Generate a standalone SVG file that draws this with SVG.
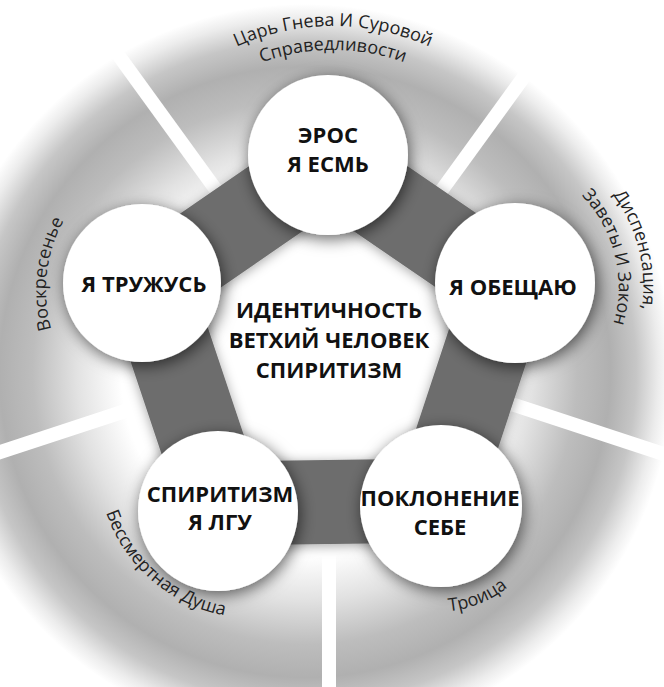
<svg xmlns="http://www.w3.org/2000/svg" width="664" height="687" viewBox="0 0 664 687">
  <defs>
    <radialGradient id="bgGrad" gradientUnits="userSpaceOnUse" cx="305" cy="372" r="368">
      <stop offset="0" stop-color="#ffffff"/>
      <stop offset="0.5" stop-color="#ffffff"/>
      <stop offset="0.62" stop-color="#e2e2e2"/>
      <stop offset="0.74" stop-color="#bdbdbd"/>
      <stop offset="0.83" stop-color="#b0b0b0"/>
      <stop offset="0.9" stop-color="#c6c6c6"/>
      <stop offset="0.96" stop-color="#ececec"/>
      <stop offset="1" stop-color="#ffffff"/>
    </radialGradient>
    <filter id="nodeShadow" x="-40%" y="-40%" width="180%" height="180%">
      <feDropShadow dx="2" dy="4" stdDeviation="8" flood-color="#000" flood-opacity="0.6"/>
    </filter>
    <filter id="bandShadow" x="-20%" y="-20%" width="140%" height="140%">
      <feDropShadow dx="0" dy="2" stdDeviation="6" flood-color="#000" flood-opacity="0.35"/>
    </filter>
    <path id="arcTop1" d="M 333 494 A 234 234 0 1 1 333 26 A 234 234 0 1 1 333 494"/>
    <path id="arcTop2" d="M 333 470 A 210 210 0 1 1 333 50 A 210 210 0 1 1 333 470"/>
    <path id="arcRight1" d="M 351.4 320.8 A 148 148 0 1 1 638.6 249.2 A 148 148 0 1 1 351.4 320.8"/>
    <path id="arcRight2" d="M 375.7 314.8 A 123 123 0 1 1 614.3 255.2 A 123 123 0 1 1 375.7 314.8"/>
    <path id="arcLeft" d="M 333.1 306.3 A 144 144 0 1 1 46.9 273.7 A 144 144 0 1 1 333.1 306.3"/>
    <path id="arcBL" d="M 354.7 346 A 155 155 0 1 0 151.3 580 A 155 155 0 1 0 354.7 346"/>
    <path id="arcBR" d="M 402 410.6 A 104 104 0 1 0 480 603.4 A 104 104 0 1 0 402 410.6"/>
  </defs>
  <style>
    .node-circle { fill: #ffffff; filter: url(#nodeShadow); }
    .label { font-family: "Open Sans", "Liberation Sans", sans-serif; font-weight: 700; font-size: 22px; fill: #111111; text-anchor: middle; }
    .arc-text { font-family: "Open Sans", "Liberation Sans", sans-serif; font-size: 18px; fill: #222222; }
    .divider { stroke: #ffffff; stroke-width: 14; }
    .band { fill: none; stroke: #6d6d6d; stroke-width: 84; stroke-linejoin: miter; filter: url(#bandShadow); }
  </style>

  <rect width="664" height="687" fill="#ffffff"/>
  <circle cx="305" cy="372" r="368" fill="url(#bgGrad)"/>

  <g id="dividers">
    <line class="divider" x1="423" y1="216" x2="576" y2="5"/>
    <line class="divider" x1="481" y1="394" x2="728" y2="475"/>
    <line class="divider" x1="329" y1="505" x2="329" y2="700"/>
    <line class="divider" x1="177" y1="394" x2="-70" y2="475"/>
    <line class="divider" x1="235" y1="216" x2="82" y2="5"/>
  </g>

  <g id="connectors">
    <polygon class="band" points="328,162.7 507.6,285.6 436.5,500.6 222.4,503.5 149.5,285.6"/>
  </g>

  <g id="center">
    <text class="label" x="329" y="318">ИДЕНТИЧНОСТЬ</text>
    <text class="label" x="329" y="348">ВЕТХИЙ ЧЕЛОВЕК</text>
    <text class="label" x="329" y="378">СПИРИТИЗМ</text>
  </g>

  <g id="node-eros">
    <circle class="node-circle" cx="328" cy="155" r="80"/>
    <text class="label" x="328" y="143">ЭРОС</text>
    <text class="label" x="328" y="172">Я ЕСМЬ</text>
  </g>
  <g id="node-obeschayu">
    <circle class="node-circle" cx="515" cy="283" r="80"/>
    <text class="label" x="513" y="295">Я ОБЕЩАЮ</text>
  </g>
  <g id="node-poklonenie">
    <circle class="node-circle" cx="441" cy="506" r="81"/>
    <text class="label" x="440" y="506">ПОКЛОНЕНИЕ</text>
    <text class="label" x="440" y="535">СЕБЕ</text>
  </g>
  <g id="node-spiritizm">
    <circle class="node-circle" cx="218" cy="511" r="80"/>
    <text class="label" x="220" y="502">СПИРИТИЗМ</text>
    <text class="label" x="220" y="530">Я ЛГУ</text>
  </g>
  <g id="node-truzhus">
    <circle class="node-circle" cx="142" cy="283" r="79"/>
    <text class="label" x="144" y="292">Я ТРУЖУСЬ</text>
  </g>

  <g id="sector-labels">
    <text class="arc-text"><textPath href="#arcTop1" startOffset="50%" text-anchor="middle">Царь Гнева И Суровой</textPath></text>
    <text class="arc-text"><textPath href="#arcTop2" startOffset="50%" text-anchor="middle">Справедливости</textPath></text>
    <text class="arc-text"><textPath href="#arcRight1" startOffset="50%" text-anchor="middle">Диспенсация,</textPath></text>
    <text class="arc-text"><textPath href="#arcRight2" startOffset="50%" text-anchor="middle">Заветы И Закон</textPath></text>
    <text class="arc-text"><textPath href="#arcLeft" startOffset="50%" text-anchor="middle">Воскресенье</textPath></text>
    <text class="arc-text"><textPath href="#arcBL" startOffset="50%" text-anchor="middle">Бессмертная Душа</textPath></text>
    <text class="arc-text"><textPath href="#arcBR" startOffset="50%" text-anchor="middle">Троица</textPath></text>
  </g>
</svg>
